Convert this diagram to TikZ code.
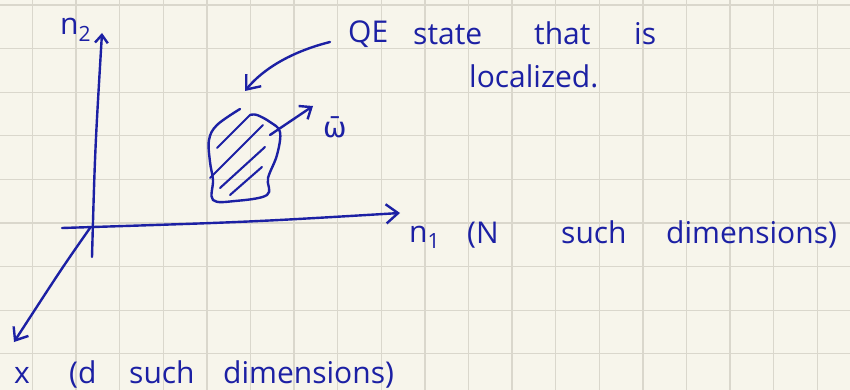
\documentclass[tikz,border=0pt]{standalone}
\usepackage{fontspec}
\setmainfont{Open Sans}
\newfontfamily\dejavu{DejaVu Sans}
\usetikzlibrary{arrows.meta}
\definecolor{cpaper}{HTML}{F7F5EB}
\definecolor{cgrid}{HTML}{DAD7CC}
\definecolor{cink}{HTML}{1C20A4}
\tikzset{
  every picture/.style={line width=2.4pt, line cap=round, line join=round},
  ink/.style={draw=cink},
  barb/.style={-{Straight Barb[length=#1pt, width=1.6*#1pt]}},
  barb/.default=10,
  hand/.style={text=cink, font=\fontsize{30}{32}\selectfont, inner sep=0pt, anchor=base west},
  hatch/.style={draw=cink, line width=2.1pt},
  gridline/.style={draw=cgrid, line width=1.3pt},
}
\begin{document}
\begin{tikzpicture}[x=1pt, y=-1pt]
  \fill[cpaper] (0,0) rectangle (850,390);
  \useasboundingbox (0,0) rectangle (850,390);
  \foreach \i in {0,...,18} \draw[gridline] (32.5+43.6*\i, 0) -- (32.5+43.6*\i, 390);
  \foreach \j in {0,...,8} \draw[gridline] (0, 5+43.6*\j) -- (850, 5+43.6*\j);
  % axes
  \coordinate (n2foot) at (92,257);
  \coordinate (n2tip) at (102,33);
  \coordinate (n1tail) at (62,228);
  \coordinate (n1tip) at (400,213);
  \coordinate (xtail) at (90,228);
  \coordinate (xtip) at (14,342);
  \draw[ink, barb=8] (n2foot) .. controls (95,150) .. (n2tip);
  \draw[ink, barb=12] (n1tail) .. controls (250,222) .. (n1tip);
  \draw[ink, barb=11] (xtail) .. controls (62,268) .. (xtip);
  \node[hand] (n2lab) at (59,35) {n\textsubscript{2}};
  \node[hand] (n1lab) at (408,242) {n\textsubscript{1}};
  \node[hand] (n1a) at (466,243) {(N};
  \node[hand] (n1b) at (560,243) {such};
  \node[hand] (n1c) at (665,243) {dimensions)};
  \node[hand] (xlab) at (13,383) {x};
  \node[hand] (xa) at (68,383) {(d};
  \node[hand] (xb) at (128,383) {such};
  \node[hand] (xc) at (222,383) {dimensions)};
  % localized state
  \draw[ink] plot[smooth, tension=0.6] coordinates {(240,109) (217,125) (209,140) (210,162) (213,180) (213,200) (235,201) (267,195) (268,178) (277,155) (280,132) (270,122) (257,115) (250,115)};
  \draw[hatch] (250,115) -- (217,148);
  \draw[hatch] (263,125) -- (210,178);
  \draw[hatch] (265,147) -- (220,188);
  \draw[hatch] (262,167) -- (230,195);
  \coordinate (wtail) at (270,135);
  \coordinate (wtip) at (313,106);
  \draw[ink, barb=10] (wtail) -- (wtip);
  \node[hand, font=\dejavu\fontsize{28}{30}\selectfont] (wlab) at (322,138) {ω̄};
  % label
  \node[hand] (qe) at (347,43) {QE};
  \node[hand] (qa) at (412,45) {state};
  \node[hand] (qb) at (533,45) {that};
  \node[hand] (qc) at (633,45) {is};
  \node[hand] (qd) at (468,88) {localized.};
  \coordinate (qetail) at (330,42);
  \coordinate (qetip) at (245,91);
  \draw[ink, barb=12] (qetail) .. controls (290,52) and (262,70) .. (qetip);
\end{tikzpicture}
\end{document}
